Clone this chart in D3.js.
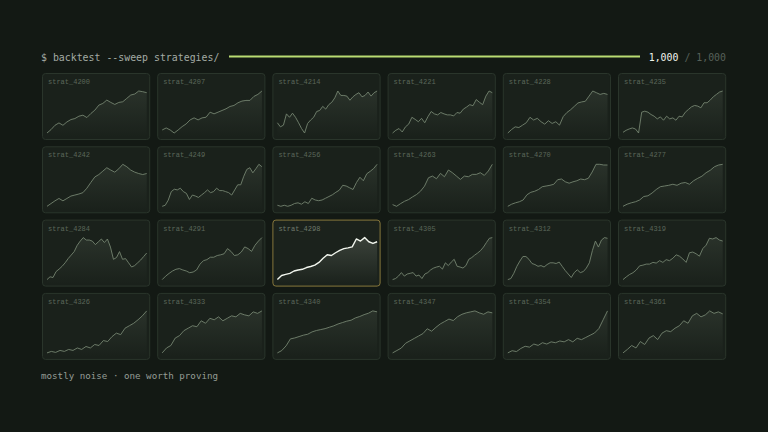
<!DOCTYPE html>
<html>
<head>
<meta charset="utf-8">
<script src="https://cdnjs.cloudflare.com/ajax/libs/d3/7.8.5/d3.min.js"></script>
<style>
  html, body { margin: 0; padding: 0; background: #131914; }
  svg { display: block; }
</style>
</head>
<body>
<div id="chart"></div>
<script>
// strategy ids, one per cell
var strategies = [4200, 4207, 4214, 4221, 4228, 4235,
                  4242, 4249, 4256, 4263, 4270, 4277,
                  4284, 4291, 4298, 4305, 4312, 4319,
                  4326, 4333, 4340, 4347, 4354, 4361];
var winner = 4298;

// equity curves (arbitrary units, each scaled to its own range)
var s4200 = [0, 10, 23, 30, 23, 33, 40, 43, 50, 53, 46, 58, 68, 83, 88, 98, 91, 85, 91, 93, 103, 113, 116, 125, 123, 120];
var s4207 = [12, 18, 12, 3, 12, 22, 30, 42, 48, 42, 48, 50, 65, 60, 65, 70, 75, 82, 85, 93, 98, 100, 100, 112, 118, 128];
var s4214 = [42, 30, 35, 68, 58, 70, 58, 42, 25, 12, 40, 50, 58, 75, 78, 90, 82, 95, 102, 115, 135, 122, 122, 120, 108, 118, 125, 130, 118, 122, 132, 120, 130, 135];
var s4221 = [12, 20, 25, 15, 30, 38, 58, 52, 45, 55, 42, 60, 75, 68, 65, 72, 68, 65, 65, 62, 72, 70, 82, 88, 95, 92, 110, 102, 95, 120, 135, 130];
var s4228 = [12, 22, 30, 28, 35, 42, 58, 50, 55, 45, 38, 48, 40, 45, 35, 60, 72, 80, 90, 100, 103, 105, 120, 135, 130, 125, 128, 125];
var s4235 = [12, 18, 22, 25, 22, 10, 72, 75, 72, 65, 60, 52, 58, 48, 60, 52, 55, 48, 60, 58, 72, 80, 88, 92, 90, 85, 100, 100, 108, 118, 125, 132, 135];
var s4242 = [12, 20, 28, 35, 28, 35, 42, 45, 48, 52, 65, 82, 98, 105, 115, 125, 118, 112, 122, 135, 128, 118, 112, 108, 105, 108];
var s4249 = [12, 15, 30, 55, 62, 60, 65, 55, 50, 32, 45, 42, 38, 45, 52, 60, 52, 55, 65, 58, 58, 55, 52, 45, 60, 75, 75, 100, 120, 125, 110, 122, 135, 128];
var s4256 = [15, 12, 15, 12, 15, 20, 22, 18, 25, 20, 35, 30, 28, 30, 35, 40, 45, 52, 58, 72, 70, 65, 60, 80, 95, 85, 105, 112, 120, 132];
var s4263 = [15, 10, 18, 25, 30, 38, 45, 55, 70, 95, 100, 92, 108, 98, 118, 110, 100, 90, 100, 98, 105, 105, 110, 102, 115, 135];
var s4270 = [12, 18, 22, 25, 30, 45, 52, 55, 60, 68, 70, 72, 75, 88, 90, 82, 78, 82, 85, 90, 88, 92, 110, 132, 132, 130, 130];
var s4277 = [12, 18, 22, 25, 30, 40, 42, 50, 60, 68, 70, 72, 75, 72, 78, 80, 75, 85, 92, 98, 108, 115, 125, 130, 132];
var s4284 = [12, 20, 18, 35, 42, 50, 60, 72, 82, 92, 110, 122, 132, 125, 125, 122, 112, 120, 128, 118, 128, 105, 70, 75, 92, 70, 72, 60, 48, 52, 60, 68, 78, 88];
var s4291 = [10, 20, 28, 35, 40, 42, 38, 35, 30, 32, 38, 55, 65, 68, 75, 75, 80, 82, 85, 100, 92, 80, 82, 90, 105, 100, 92, 110, 122, 132];
var s4298 = [10, 22, 25, 28, 35, 38, 40, 45, 48, 52, 60, 72, 82, 80, 88, 95, 100, 102, 105, 128, 122, 132, 120, 115, 120];
var s4305 = [12, 15, 22, 32, 22, 28, 30, 32, 22, 25, 15, 28, 32, 40, 45, 48, 50, 42, 60, 52, 62, 70, 50, 48, 45, 52, 70, 75, 82, 88, 95, 105, 118, 130, 132];
var s4312 = [12, 15, 30, 50, 65, 78, 78, 70, 58, 55, 50, 52, 48, 55, 60, 60, 58, 62, 50, 38, 28, 18, 32, 40, 32, 35, 45, 60, 95, 122, 105, 125, 132, 130];
var s4319 = [10, 18, 25, 30, 38, 50, 52, 55, 55, 60, 58, 65, 60, 68, 65, 72, 82, 78, 70, 60, 88, 90, 85, 78, 100, 110, 130, 128, 132, 125, 122];
var s4326 = [5, 8, 6, 10, 8, 12, 10, 15, 12, 18, 15, 22, 20, 30, 28, 38, 45, 42, 55, 60, 65, 72, 80, 90];
var s4333 = [5, 15, 20, 35, 40, 50, 55, 60, 58, 70, 65, 75, 72, 78, 70, 75, 80, 78, 85, 82, 80, 88, 85, 90];
var s4340 = [10, 15, 25, 40, 42, 45, 48, 50, 55, 58, 60, 62, 65, 68, 72, 75, 78, 80, 85, 88, 92, 95, 100, 98];
var s4347 = [5, 10, 15, 25, 30, 35, 40, 45, 55, 50, 58, 65, 70, 75, 72, 80, 85, 88, 90, 92, 88, 85, 90, 88];
var s4354 = [5, 10, 8, 15, 20, 18, 25, 22, 28, 25, 30, 28, 32, 30, 35, 30, 38, 35, 40, 45, 50, 60, 80, 100];
var s4361 = [5, 12, 20, 15, 28, 22, 35, 40, 32, 45, 50, 48, 55, 60, 70, 65, 80, 85, 78, 82, 90, 85, 88, 84];

var curves = [s4200, s4207, s4214, s4221, s4228, s4235,
              s4242, s4249, s4256, s4263, s4270, s4277,
              s4284, s4291, s4298, s4305, s4312, s4319,
              s4326, s4333, s4340, s4347, s4354, s4361];

var width = 768, height = 432;
var cols = 6, cellW = 108.2, cellH = 67, gapX = 7, gapY = 6.3;
var gridX = 42, gridY = 73;

var svg = d3.select("#chart").append("svg")
  .attr("width", width)
  .attr("height", height);

svg.append("rect").attr("width", width).attr("height", height).attr("fill", "#131914");

var defs = svg.append("defs");
var g1 = defs.append("linearGradient").attr("id", "fillDim").attr("x1", 0).attr("y1", 0).attr("x2", 0).attr("y2", 1);
g1.append("stop").attr("offset", "0%").attr("stop-color", "#8a9a86").attr("stop-opacity", 0.14);
g1.append("stop").attr("offset", "100%").attr("stop-color", "#8a9a86").attr("stop-opacity", 0.0);
var g2 = defs.append("linearGradient").attr("id", "fillHot").attr("x1", 0).attr("y1", 0).attr("x2", 0).attr("y2", 1);
g2.append("stop").attr("offset", "0%").attr("stop-color", "#dfe8d6").attr("stop-opacity", 0.16);
g2.append("stop").attr("offset", "100%").attr("stop-color", "#dfe8d6").attr("stop-opacity", 0.0);

// header
svg.append("text")
  .attr("x", 41).attr("y", 61)
  .attr("font-family", "DejaVu Sans Mono, monospace")
  .attr("font-size", 9.9)
  .attr("fill", "#a3aba4")
  .text("$ backtest --sweep strategies/");

svg.append("line")
  .attr("x1", 229).attr("x2", 640)
  .attr("y1", 56.5).attr("y2", 56.5)
  .attr("stroke", "#b9dc72").attr("stroke-width", 2);

var count = svg.append("text")
  .attr("x", 726).attr("y", 61)
  .attr("text-anchor", "end")
  .attr("font-family", "DejaVu Sans Mono, monospace")
  .attr("font-size", 9.9);
count.append("tspan").attr("fill", "#eef2ea").text("1,000");
count.append("tspan").attr("fill", "#566058").text(" / 1,000");

// footer
svg.append("text")
  .attr("x", 41).attr("y", 379)
  .attr("font-family", "DejaVu Sans Mono, monospace")
  .attr("font-size", 9.2)
  .attr("fill", "#939c94")
  .text("mostly noise \u00b7 one worth proving");

var x = d3.scaleLinear().range([5, cellW - 3.5]);
var y = d3.scaleLinear().range([cellH - 7, 18]);

var cells = svg.selectAll("g.cell")
  .data(strategies.map(function (id, i) { return { id: id, values: curves[i], i: i }; }))
  .enter().append("g")
  .attr("class", "cell")
  .attr("transform", function (d) {
    var c = d.i % cols, r = Math.floor(d.i / cols);
    return "translate(" + (gridX + c * (cellW + gapX)) + "," + (gridY + r * (cellH + gapY)) + ")";
  });

cells.append("rect")
  .attr("x", 0.5).attr("y", 0.5)
  .attr("width", cellW - 1).attr("height", cellH - 1)
  .attr("rx", 3)
  .attr("fill", function (d) { return d.id === winner ? "#1b221c" : "#1a211b"; })
  .attr("stroke", function (d) { return d.id === winner ? "#86773c" : "#2a352b"; })
  .attr("stroke-width", 1);

cells.each(function (d) {
  var g = d3.select(this);
  var hot = d.id === winner;
  x.domain([0, d.values.length - 1]);
  y.domain(d3.extent(d.values));

  var area = d3.area()
    .x(function (v, i) { return x(i); })
    .y0(cellH - 3)
    .y1(function (v) { return y(v); });
  var line = d3.line()
    .x(function (v, i) { return x(i); })
    .y(function (v) { return y(v); });

  g.append("path")
    .attr("d", area(d.values))
    .attr("fill", hot ? "url(#fillHot)" : "url(#fillDim)");
  g.append("path")
    .attr("d", line(d.values))
    .attr("fill", "none")
    .attr("stroke", hot ? "#f2f6ee" : "#74836f")
    .attr("stroke-width", hot ? 1.4 : 0.9)
    .attr("stroke-linejoin", "round");

  g.append("text")
    .attr("x", 6).attr("y", 11)
    .attr("font-family", "Liberation Mono, monospace")
    .attr("font-size", 7)
    .attr("fill", hot ? "#6f7a6c" : "#5b675a")
    .text("strat_" + d.id);
});
</script>
</body>
</html>
